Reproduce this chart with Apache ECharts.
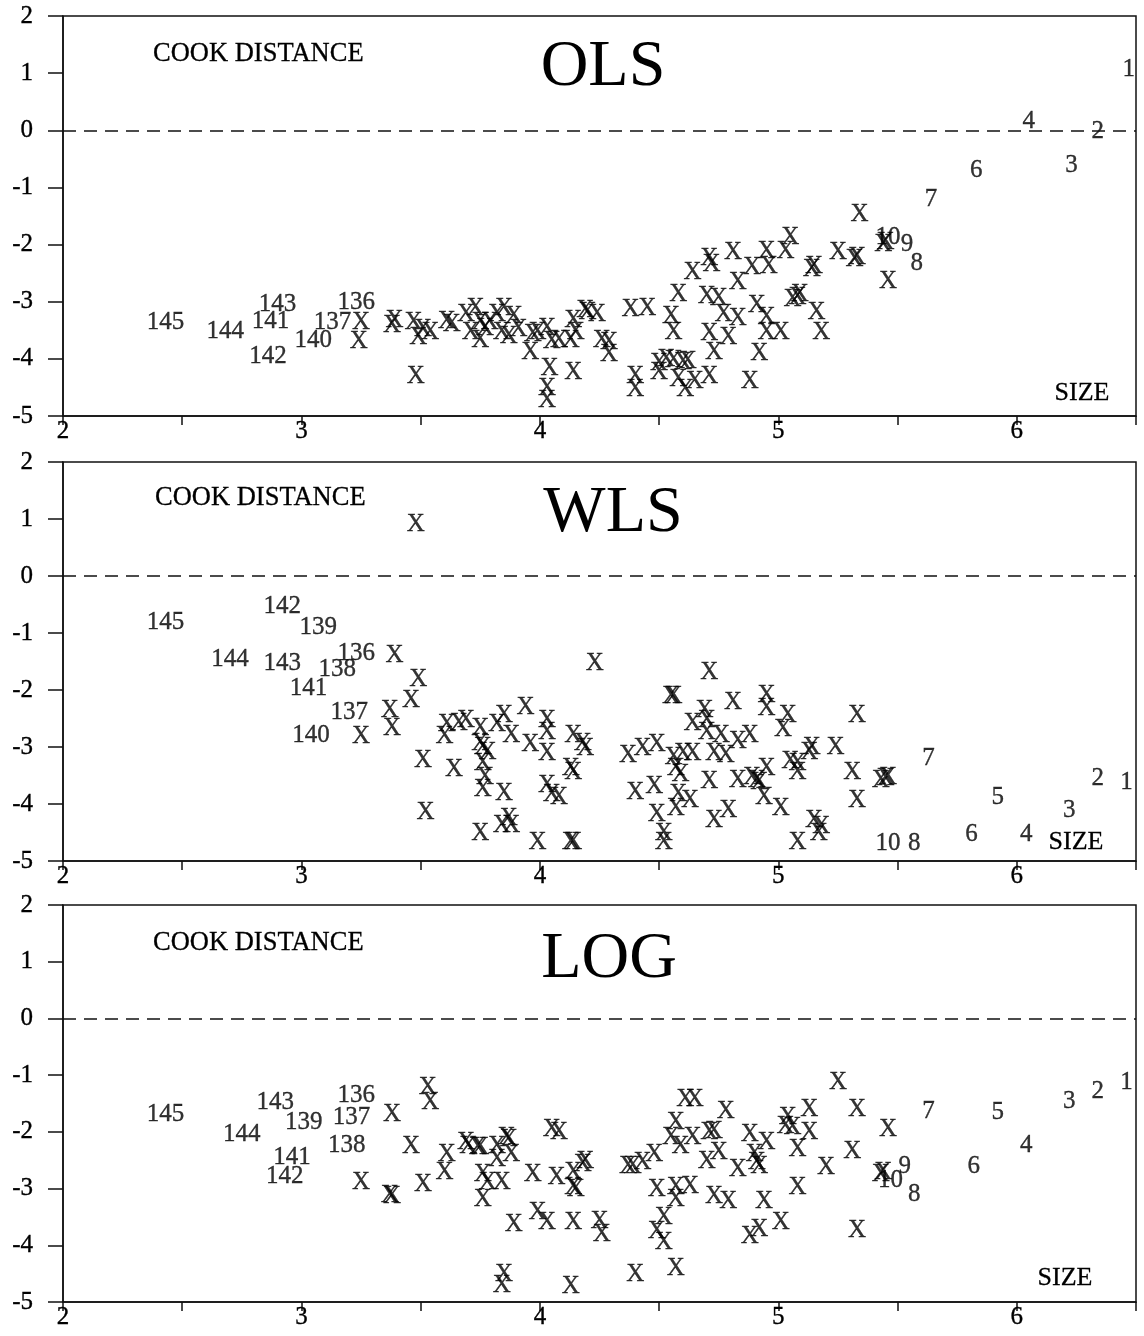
<!DOCTYPE html>
<html>
<head>
<meta charset="utf-8">
<script src="https://cdn.jsdelivr.net/npm/echarts@6/dist/echarts.min.js"></script>
<style>html,body{margin:0;padding:0;background:#fff;}#c{width:1144px;height:1336px;}</style>
</head>
<body>
<div id="c"></div>
<script>
// ---- Data (SIZE, COOK DISTANCE) ----
const panelTitles = ['OLS', 'WLS', 'LOG'];
const xTicks = [2, 3, 4, 5, 6];
const yTicks = [-5, -4, -3, -2, -1, 0, 1, 2];

const olsMarks = [[3.25,-3.37],[3.24,-3.70],[3.38,-3.42],[3.39,-3.32],[3.47,-3.37],[3.49,-3.63],[3.51,-3.49],[3.54,-3.53],[3.48,-4.31],[3.61,-3.35],[3.63,-3.40],[3.69,-3.23],[3.73,-3.11],[3.71,-3.54],[3.75,-3.37],[3.77,-3.47],[3.75,-3.67],[3.79,-3.37],[3.82,-3.23],[3.85,-3.12],[3.84,-3.53],[3.87,-3.61],[3.89,-3.26],[3.91,-3.49],[3.97,-3.58],[3.99,-3.53],[3.96,-3.89],[4.03,-3.46],[4.05,-3.70],[4.08,-3.67],[4.04,-4.17],[4.03,-4.51],[4.03,-4.72],[4.13,-3.67],[4.15,-3.53],[4.14,-3.32],[4.14,-4.23],[4.19,-3.16],[4.20,-3.19],[4.24,-3.23],[4.26,-3.67],[4.29,-3.72],[4.29,-3.93],[4.38,-3.14],[4.45,-3.11],[4.40,-4.31],[4.40,-4.54],[4.50,-4.08],[4.50,-4.24],[4.53,-4.01],[4.56,-4.03],[4.60,-4.07],[4.62,-4.05],[4.58,-4.36],[4.61,-4.54],[4.65,-4.40],[4.71,-4.31],[4.55,-3.26],[4.56,-3.53],[4.58,-2.88],[4.64,-2.49],[4.71,-2.25],[4.72,-2.35],[4.70,-2.91],[4.75,-2.95],[4.77,-3.23],[4.83,-3.30],[4.71,-3.56],[4.79,-3.63],[4.73,-3.89],[4.81,-2.14],[4.83,-2.67],[4.89,-2.40],[4.95,-2.12],[4.96,-2.38],[4.91,-3.07],[4.95,-3.28],[4.95,-3.54],[4.92,-3.91],[4.88,-4.40],[5.03,-2.12],[5.05,-1.88],[5.14,-2.44],[5.15,-2.38],[5.25,-2.14],[5.32,-2.26],[5.33,-2.23],[5.34,-1.48],[5.44,-2.00],[5.45,-1.97],[5.46,-2.65],[5.06,-2.96],[5.08,-2.93],[5.09,-2.88],[5.16,-3.18],[5.18,-3.53],[5.01,-3.53]];
const olsCases = [['1',6.47,1.06],['2',6.34,-0.02],['3',6.23,-0.61],['4',6.05,0.16],['6',5.83,-0.70],['7',5.64,-1.21],['8',5.58,-2.33],['9',5.54,-2.00],['10',5.46,-1.88],['136',3.23,-3.02],['137',3.13,-3.36],['140',3.05,-3.68],['141',2.87,-3.35],['142',2.86,-3.95],['143',2.90,-3.04],['144',2.68,-3.52],['145',2.43,-3.37]];

const wlsMarks = [[3.48,0.91],[3.39,-1.39],[3.49,-1.81],[3.46,-2.18],[3.37,-2.35],[3.38,-2.67],[3.25,-2.82],[3.51,-3.23],[3.52,-4.14],[3.61,-2.61],[3.60,-2.82],[3.66,-2.58],[3.69,-2.53],[3.64,-3.40],[3.75,-2.67],[3.75,-2.93],[3.78,-3.09],[3.76,-3.00],[3.76,-3.28],[3.77,-3.53],[3.76,-3.75],[3.75,-4.51],[3.82,-2.61],[3.85,-2.44],[3.88,-2.79],[3.85,-3.81],[3.84,-4.37],[3.88,-4.37],[3.87,-4.25],[3.94,-2.30],[3.96,-2.96],[3.99,-4.68],[4.03,-2.53],[4.03,-2.75],[4.03,-3.11],[4.03,-3.67],[4.05,-3.84],[4.08,-3.88],[4.14,-2.79],[4.18,-2.93],[4.19,-3.02],[4.13,-3.37],[4.14,-3.44],[4.13,-4.67],[4.14,-4.67],[4.23,-1.53],[4.37,-3.14],[4.43,-3.02],[4.49,-2.96],[4.40,-3.79],[4.48,-3.70],[4.49,-4.19],[4.52,-4.51],[4.52,-4.68],[4.55,-2.12],[4.56,-2.12],[4.56,-3.19],[4.57,-3.37],[4.59,-3.49],[4.58,-3.84],[4.57,-4.07],[4.63,-3.93],[4.60,-3.11],[4.64,-3.11],[4.64,-2.58],[4.69,-2.35],[4.70,-2.53],[4.70,-2.75],[4.76,-2.79],[4.73,-3.11],[4.78,-3.14],[4.71,-1.70],[4.81,-2.21],[4.83,-2.91],[4.88,-2.79],[4.71,-3.61],[4.83,-3.58],[4.89,-3.53],[4.91,-3.58],[4.95,-3.37],[4.73,-4.28],[4.79,-4.11],[4.95,-2.09],[4.95,-2.32],[4.94,-3.89],[5.04,-2.44],[5.02,-2.70],[5.14,-3.00],[5.13,-3.09],[5.24,-3.00],[5.33,-2.44],[5.05,-3.26],[5.08,-3.28],[5.08,-3.44],[4.92,-3.63],[5.01,-4.07],[5.31,-3.44],[5.33,-3.93],[5.43,-3.58],[5.46,-3.53],[5.45,-3.56],[5.15,-4.28],[5.18,-4.40],[5.17,-4.51],[5.08,-4.68]];
const wlsCases = [['1',6.46,-3.63],['2',6.34,-3.55],['3',6.22,-4.11],['4',6.04,-4.53],['5',5.92,-3.88],['6',5.81,-4.53],['7',5.63,-3.20],['8',5.57,-4.69],['10',5.46,-4.69],['136',3.23,-1.35],['137',3.20,-2.40],['138',3.15,-1.64],['139',3.07,-0.91],['140',3.04,-2.79],['141',3.03,-1.97],['142',2.92,-0.54],['143',2.92,-1.54],['144',2.70,-1.46],['145',2.43,-0.82]];

const logMarks = [[3.25,-2.89],[3.38,-3.14],[3.37,-3.12],[3.38,-1.69],[3.53,-1.22],[3.54,-1.48],[3.46,-2.26],[3.51,-2.93],[3.61,-2.40],[3.60,-2.72],[3.69,-2.19],[3.70,-2.26],[3.74,-2.28],[3.75,-2.28],[3.76,-2.75],[3.78,-2.89],[3.76,-3.19],[3.82,-2.26],[3.86,-2.10],[3.87,-2.14],[3.88,-2.40],[3.82,-2.49],[3.84,-2.89],[3.89,-3.64],[3.85,-4.52],[3.84,-4.70],[3.97,-2.75],[3.99,-3.42],[4.03,-3.60],[4.05,-1.96],[4.08,-2.01],[4.07,-2.81],[4.14,-2.72],[4.14,-2.98],[4.15,-3.02],[4.14,-3.60],[4.13,-4.73],[4.18,-2.58],[4.19,-2.52],[4.25,-3.58],[4.26,-3.81],[4.37,-2.61],[4.39,-2.61],[4.43,-2.54],[4.48,-2.40],[4.40,-4.52],[4.49,-3.02],[4.52,-3.51],[4.49,-3.76],[4.52,-3.95],[4.57,-4.40],[4.57,-1.84],[4.55,-2.10],[4.59,-2.26],[4.64,-2.10],[4.61,-1.43],[4.65,-1.43],[4.57,-2.98],[4.57,-3.19],[4.63,-2.97],[4.71,-2.01],[4.73,-2.00],[4.78,-1.64],[4.70,-2.53],[4.75,-2.37],[4.73,-3.14],[4.79,-3.23],[4.83,-2.67],[4.88,-2.05],[4.95,-2.19],[4.90,-2.40],[4.91,-2.54],[4.94,-3.23],[4.88,-3.85],[4.92,-3.72],[5.25,-1.13],[5.13,-1.61],[5.04,-1.75],[5.03,-1.91],[5.06,-1.92],[5.13,-2.01],[5.33,-1.61],[5.46,-1.96],[5.08,-2.31],[5.31,-2.35],[4.92,-2.61],[5.20,-2.63],[5.43,-2.75],[5.44,-2.72],[5.08,-2.98],[5.01,-3.60],[5.33,-3.73]];
const logCases = [['1',6.46,-1.13],['2',6.34,-1.28],['3',6.22,-1.47],['4',6.04,-2.24],['5',5.92,-1.66],['6',5.82,-2.61],['7',5.63,-1.64],['8',5.57,-3.11],['9',5.53,-2.61],['10',5.47,-2.85],['136',3.23,-1.36],['137',3.21,-1.74],['138',3.19,-2.24],['139',3.01,-1.84],['141',2.96,-2.45],['142',2.93,-2.78],['143',2.89,-1.49],['144',2.75,-2.04],['145',2.43,-1.69]];

// ---- Chart ----
const FONT = "'Liberation Serif', 'Times New Roman', serif";
const INK = '#000';
const grids = [
  {left: 63, top: 16, width: 1073, height: 400},
  {left: 63, top: 462, width: 1073, height: 399},
  {left: 63, top: 905, width: 1073, height: 397}
];
const marksAll = [olsMarks, wlsMarks, logMarks];
const casesAll = [olsCases, wlsCases, logCases];

const textStyle = {fontFamily: FONT, fontSize: 25, color: INK, textBorderColor: INK, textBorderWidth: 0.35};

const option = {
  animation: false,
  backgroundColor: '#fff',
  grid: grids.map(g => Object.assign({show: true, borderColor: '#111', borderWidth: 1.5, backgroundColor: 'transparent'}, g)),
  xAxis: grids.map((g, i) => ({
    gridIndex: i, type: 'value', min: 2, max: 6.5, interval: 0.5,
    axisLine: {show: true, onZero: false, lineStyle: {color: '#111', width: 1.5}},
    axisTick: {show: true, length: 9, lineStyle: {color: '#111', width: 1.5}},
    axisLabel: Object.assign({show: true, margin: 3,
      formatter: v => (xTicks.indexOf(Math.round(v * 100) / 100) >= 0 ? String(v) : '')}, textStyle),
    splitLine: {show: false}
  })),
  yAxis: grids.map((g, i) => ({
    gridIndex: i, type: 'value', min: -5, max: 2, interval: 1,
    axisLine: {show: true, onZero: false, lineStyle: {color: '#111', width: 1.5}},
    axisTick: {show: true, length: 15, lineStyle: {color: '#111', width: 1.5}},
    axisLabel: Object.assign({show: true, margin: 30,
      formatter: v => (yTicks.indexOf(v) >= 0 ? String(v) : '')}, textStyle),
    splitLine: {show: false}
  })),
  series: [],
  graphic: []
};

grids.forEach((g, i) => {
  option.series.push({
    type: 'scatter', xAxisIndex: i, yAxisIndex: i,
    symbol: 'circle', symbolSize: 1, itemStyle: {color: 'transparent'},
    data: marksAll[i],
    label: Object.assign({show: true, position: 'inside', formatter: 'X'}, textStyle),
    emphasis: {disabled: true},
    markLine: {
      silent: true, symbol: ['none', 'none'],
      label: {show: false},
      lineStyle: {type: [13, 8], color: '#111', width: 1.5},
      data: [{yAxis: 0}]
    }
  });
  option.series.push({
    type: 'scatter', xAxisIndex: i, yAxisIndex: i,
    symbol: 'circle', symbolSize: 1, itemStyle: {color: 'transparent'},
    data: casesAll[i].map(c => ({value: [c[1], c[2]], name: c[0]})),
    label: Object.assign({show: true, position: 'inside', formatter: p => p.name}, textStyle),
    emphasis: {disabled: true}
  });
});

const titlePos = [[603, 68], [613, 514], [609, 960]];
const cookPos = [[153, 54], [155, 498], [153, 943]];
const sizePos = [[1082, 393], [1076, 842], [1065, 1278]];
for (let i = 0; i < 3; i++) {
  option.graphic.push({type: 'text', x: titlePos[i][0], y: titlePos[i][1], silent: true,
    style: {text: panelTitles[i], font: '66px ' + FONT, fill: INK, align: 'center', verticalAlign: 'middle'}});
  option.graphic.push({type: 'text', x: cookPos[i][0], y: cookPos[i][1], silent: true,
    style: {text: 'COOK DISTANCE', font: '26.5px ' + FONT, fill: INK, stroke: INK, lineWidth: 0.3, align: 'left', verticalAlign: 'middle'}});
  option.graphic.push({type: 'text', x: sizePos[i][0], y: sizePos[i][1], silent: true,
    style: {text: 'SIZE', font: '26px ' + FONT, fill: INK, stroke: INK, lineWidth: 0.3, align: 'center', verticalAlign: 'middle'}});
}

const chart = echarts.init(document.getElementById('c'), null, {renderer: 'canvas'});
chart.setOption(option);
</script>
</body>
</html>
